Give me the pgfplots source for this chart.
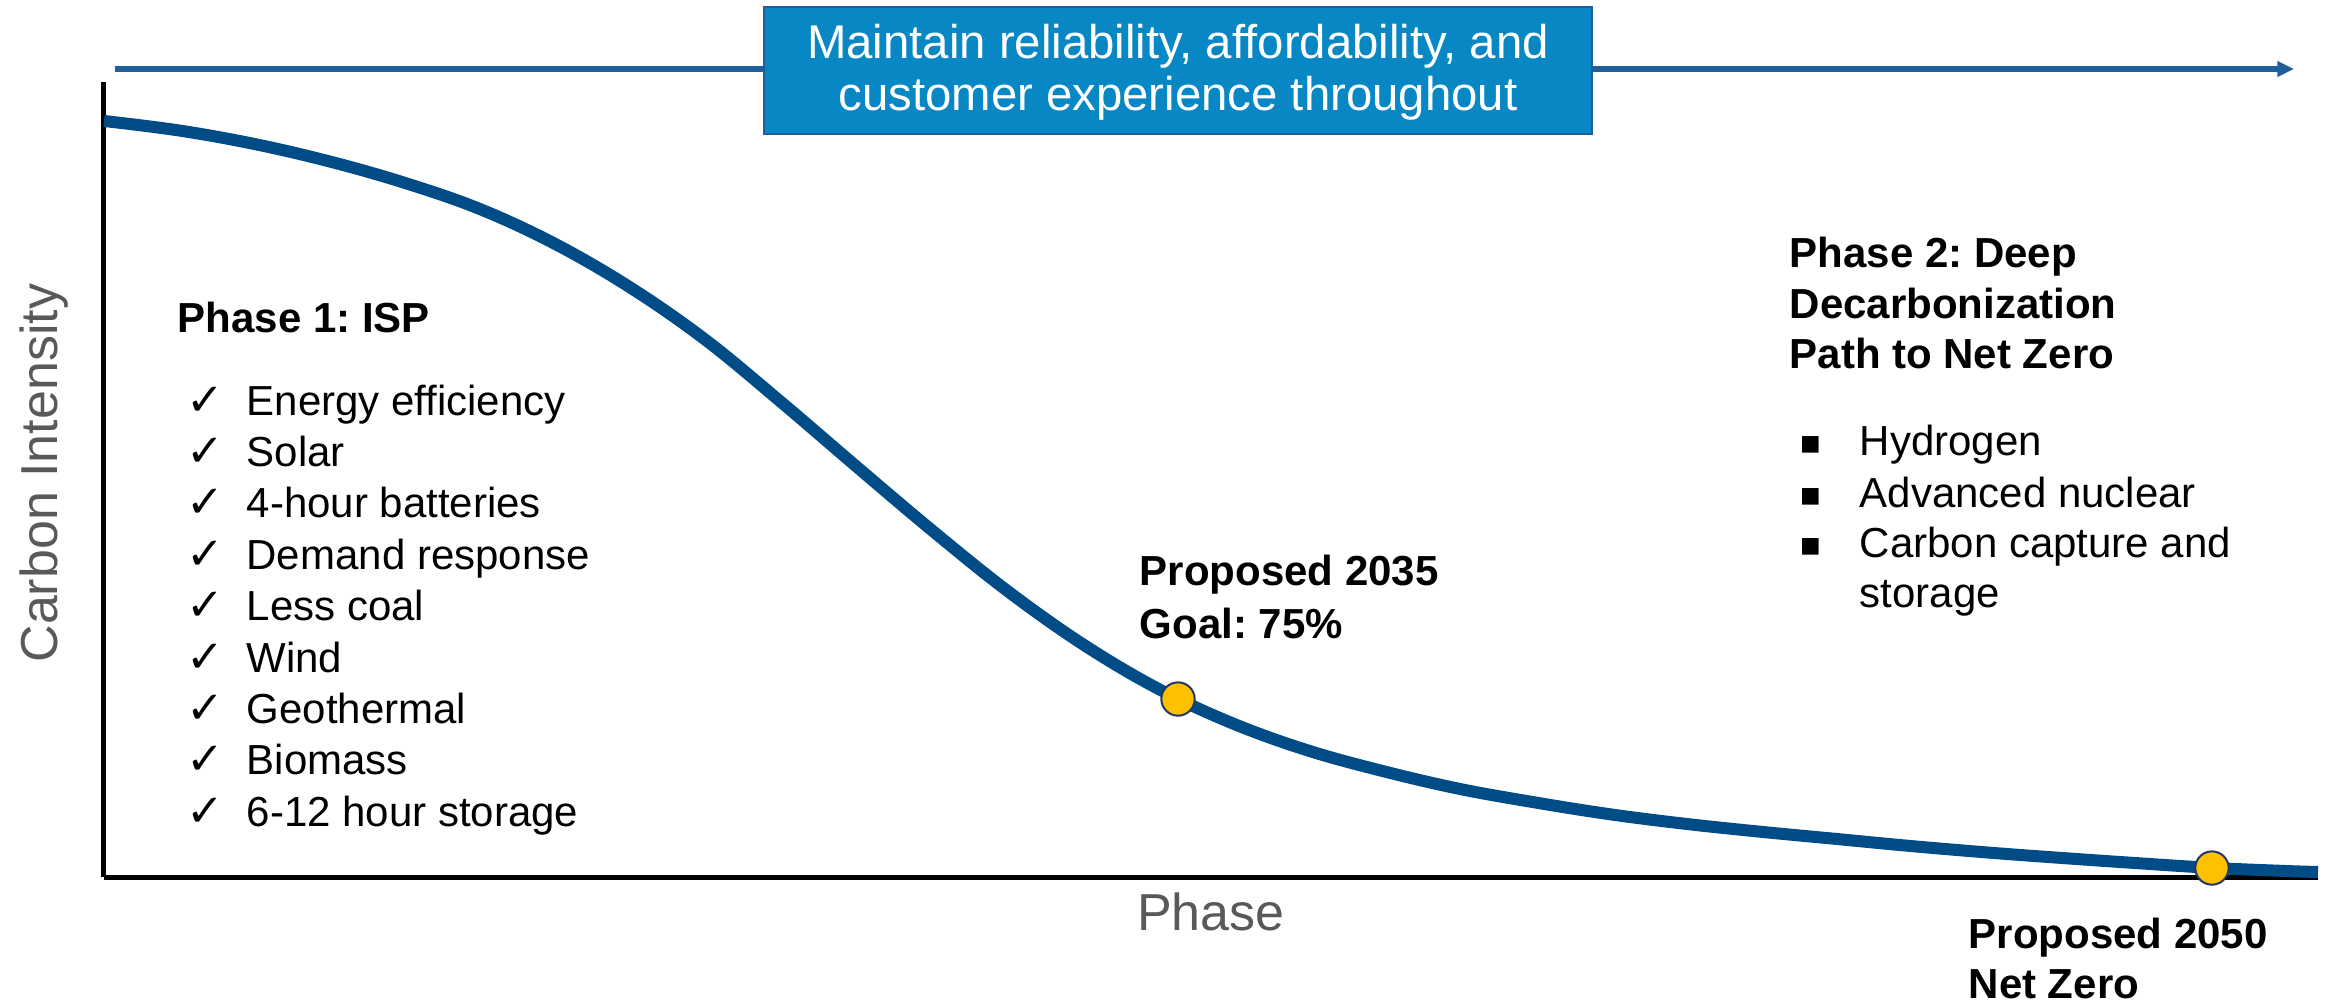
\documentclass[border=0pt]{standalone}
\usepackage{pgfplots}
\pgfplotsset{compat=1.18}
\usepackage{fontspec}
\setmainfont{Liberation Sans}
\newfontfamily\symfont{DejaVu Sans}
\usetikzlibrary{arrows.meta}
\frenchspacing
\definecolor{curveblue}{HTML}{004C87}
\definecolor{arrowblue}{HTML}{1F5F9A}
\definecolor{boxblue}{HTML}{0787C3}
\definecolor{mkyellow}{HTML}{FFC000}
\definecolor{mkedge}{HTML}{1F3864}
\definecolor{labelgray}{HTML}{595959}
\newcommand\bodyf{\fontsize{12.6pt}{15pt}\selectfont}
\newcommand\labf{\fontsize{15.6pt}{18pt}\selectfont}
\newcommand\boxf{\fontsize{14.2pt}{16pt}\selectfont}
\begin{document}
\begin{tikzpicture}[x=0.3pt,y=0.3pt]
\useasboundingbox (0,0) rectangle (2334,1005);
% top arrow and box
\draw[arrowblue, line width=1.8pt, -{Triangle[length=5pt,width=4.5pt]}] (115,936) -- (2294,936);
\draw[arrowblue, line width=0.8pt, fill=boxblue] (764,871) rectangle (1592,998);
\node[anchor=base, inner sep=0, white, font=\boxf] at (1178,946) {Maintain reliability, affordability, and};
\node[anchor=base, inner sep=0, white, font=\boxf] at (1178,895) {customer experience throughout};
\begin{axis}[at={(31.2pt,38.4pt)}, anchor=south west, scale only axis,
  width=664.2pt, height=238.5pt,
  xmin=0, xmax=100, ymin=0, ymax=100,
  axis x line*=bottom, axis y line*=left,
  axis line style={line width=1.5pt, black},
  xtick=\empty, ytick=\empty, clip=false,
  xlabel={Phase}, ylabel={Carbon Intensity},
  label style={font=\labf, text=labelgray},
  xlabel style={at={(axis description cs:0.5,-0.0679)}, anchor=base, inner sep=0pt},
  ylabel style={at={(axis description cs:-0.0212,0.508)}, anchor=base, inner sep=0pt}]
\addplot[smooth, tension=0.6, color=curveblue, line width=3.6pt] coordinates {
(0,95.1) (3.4,93.9) (6.8,92.2) (10.2,90.0) (13.6,87.3) (17.0,84.0) (20.4,79.6)
(23.8,74.1) (27.2,67.5) (30.6,59.7) (34.0,51.6) (37.4,43.6) (40.8,36.0) (44.2,29.3)
(47.6,23.7) (51.0,19.3) (54.4,15.9) (57.8,13.3) (61.2,11.1) (64.6,9.4) (68.0,7.9)
(71.4,6.7) (74.8,5.7) (78.2,4.8) (81.6,3.9) (85.0,3.1) (88.4,2.4) (91.8,1.75)
(95.2,1.15) (98.6,0.75) (100,0.63)};
\addplot[only marks, mark=*, mark size=5pt, mark options={fill=mkyellow, draw=mkedge, line width=0.6pt}]
coordinates {(48.51,22.39) (95.21,1.13)};
\end{axis}
% Phase 1
\node[anchor=base west, inner sep=0, font=\bodyf\bfseries] at (177,673) {Phase 1: ISP};
\foreach \t [count=\i from 0] in {Energy efficiency, Solar, 4-hour batteries, Demand response, Less coal, Wind, Geothermal, Biomass, 6-12 hour storage}{
  \node[anchor=base west, inner sep=0, font=\fontsize{13.5pt}{15pt}\selectfont\symfont] at (186,{590-51.4*\i}) {✓};
  \node[anchor=base west, inner sep=0, font=\bodyf] at (246,{590-51.4*\i}) {\t};
}
% Phase 2
\node[anchor=base west, inner sep=0, font=\bodyf\bfseries] at (1789,738) {Phase 2: Deep};
\node[anchor=base west, inner sep=0, font=\bodyf\bfseries] at (1789,687) {Decarbonization};
\node[anchor=base west, inner sep=0, font=\bodyf\bfseries] at (1789,637) {Path to Net Zero};
\foreach \t/\y/\b in {Hydrogen/550/1, Advanced nuclear/498/1, Carbon capture and/448/1, storage/398/0}{
  \ifnum\b=1 \node[anchor=base west, inner sep=0, font=\fontsize{10pt}{12pt}\selectfont\symfont] at (1799,\y+2) {▪};\fi
  \node[anchor=base west, inner sep=0, font=\bodyf] at (1859,\y) {\t};
}
% annotations
\node[anchor=base west, inner sep=0, font=\bodyf\bfseries] at (1139,420) {Proposed 2035};
\node[anchor=base west, inner sep=0, font=\bodyf\bfseries] at (1139,367) {Goal: 75\%};
\node[anchor=base west, inner sep=0, font=\bodyf\bfseries] at (1968,57) {Proposed 2050};
\node[anchor=base west, inner sep=0, font=\bodyf\bfseries] at (1968,7) {Net Zero};
\end{tikzpicture}
\end{document}
